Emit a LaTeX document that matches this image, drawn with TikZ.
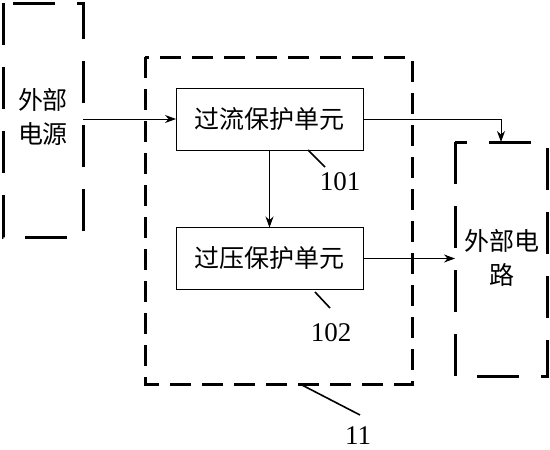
\documentclass[tikz,border=0pt]{standalone}
\usepackage{fontspec}
\setmainfont{Liberation Serif}
\newfontfamily\cjk{Noto Sans CJK SC}
\usetikzlibrary{arrows.meta}
\begin{document}
\begin{tikzpicture}[x=1pt,y=-1pt,
  frame/.style={inner sep=0pt, outer sep=0pt},
  bigdash/.style={line width=3pt, dash pattern=on 21pt off 11pt},
  sidedash/.style={line width=3pt, dash pattern=on 42pt off 22pt},
  unit/.style={draw, line width=1pt, minimum width=187pt, minimum height=62pt,
    inner sep=0pt, outer sep=0pt, font=\cjk\fontsize{25}{30}\selectfont},
  arr/.style={-{Stealth[length=11pt,width=8pt]}, line width=0.9pt},
  lead/.style={line width=1.6pt},
  num/.style={font=\fontsize{27}{30}\selectfont, inner sep=0pt},
  cjktext/.style={font=\cjk\fontsize{25}{34}\selectfont, align=center, inner sep=0pt}
]
\fill[white] (0,0) rectangle (550,450);
\useasboundingbox (0,0) rectangle (550,450);

% external power source
\node[frame, minimum width=80pt, minimum height=234pt] (src) at (43,120) {};
\draw[sidedash] (src.north west) -- (src.south west) -- (src.south east) -- (src.north east) -- cycle;
\node[cjktext] (srct) at (43,117) {外部\\电源};

% module 11
\node[frame, minimum width=267pt, minimum height=327pt] (mod) at (278.5,220.5) {};
\draw[bigdash] (mod.north west) -- (mod.south west) -- (mod.south east) -- (mod.north east) -- cycle;

% units
\node[unit] (ocp) at (269.5,119) {过流保护单元};
\node[unit] (ovp) at (269.5,258.5) {过压保护单元};

% external circuit
\node[frame, minimum width=92pt, minimum height=234pt] (ext) at (501,259) {};
\draw[sidedash] (ext.north west) -- (ext.south west) -- (ext.south east) -- (ext.north east) -- cycle;
\node[cjktext] (extt) at (502,258) {外部电\\路};

% connectors
\draw[arr] (src.east |- ocp.west) -- (ocp.west);
\draw[arr] (ocp.south) -- (ovp.north);
\draw[arr] (ocp.east) -| (ext.north);
\draw[arr] (ovp.east) -- (ext.west |- ovp.east);

% labels
\node[num] (n101) at (340,182) {101};
\node[num] (n102) at (331,333) {102};
\node[num] (n11) at (358,436) {11};
\coordinate (l101a) at (308,150);
\coordinate (l101b) at (325,167);
\coordinate (l102a) at (315,292);
\coordinate (l102b) at (330,308);
\coordinate (l11a) at (300,384);
\coordinate (l11b) at (360,415);
\draw[lead] (l101a) -- (l101b);
\draw[lead] (l102a) -- (l102b);
\draw[lead] (l11a) -- (l11b);
\end{tikzpicture}
\end{document}
